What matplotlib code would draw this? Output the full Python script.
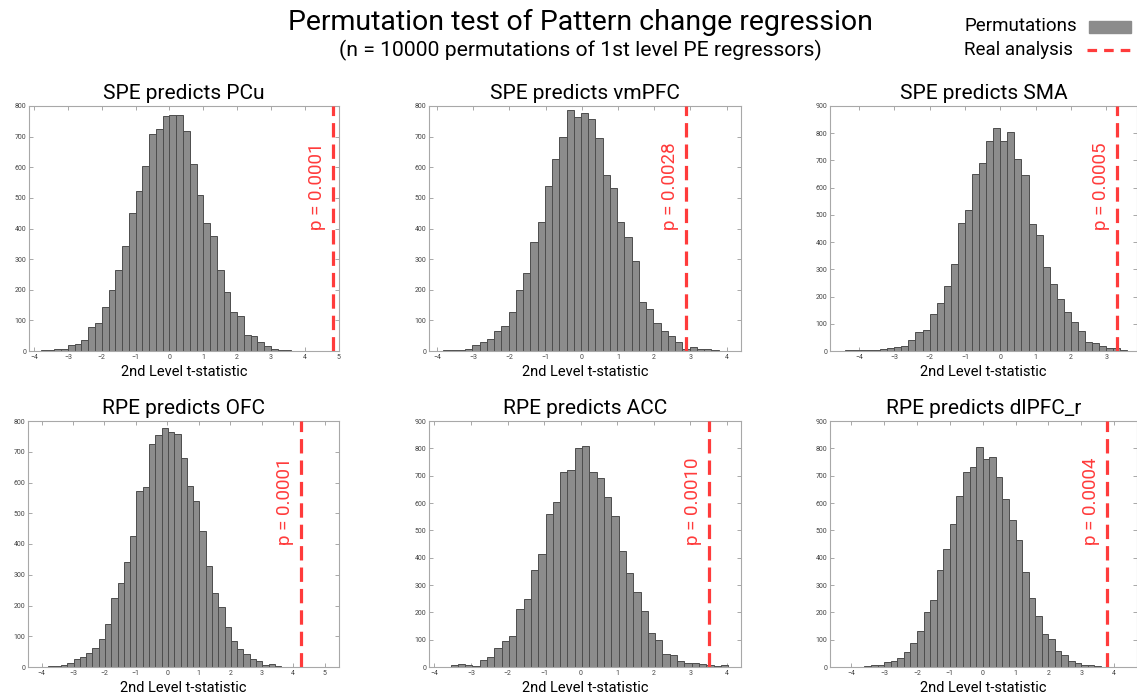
import matplotlib.pyplot as plt
import numpy as np

plt.rcParams['font.family'] = ['Roboto', 'DejaVu Sans']

# Permutation histograms (bin width 0.2)
titles = ['SPE predicts PCu', 'SPE predicts vmPFC', 'SPE predicts SMA',
          'RPE predicts OFC', 'RPE predicts ACC', 'RPE predicts dlPFC_r']
bin_width = 0.2
bin_starts = [-3.8, -3.82, -4.4, -3.98, -3.76, -4.2]

counts_pcu = [2, 3, 5, 8, 18, 22, 37, 78, 92, 143, 200, 266, 342, 450, 523, 605, 707, 726, 767,
              771, 770, 717, 609, 509, 417, 377, 266, 194, 128, 113, 52, 50, 29, 16, 8, 3, 4, 1]
counts_vmpfc = [2, 3, 2, 7, 18, 28, 38, 66, 81, 128, 200, 254, 357, 422, 540, 626, 700, 788, 765,
                776, 757, 697, 575, 531, 422, 373, 293, 160, 136, 91, 65, 49, 29, 8, 13, 5, 5, 2]
counts_sma = [4, 2, 2, 2, 4, 6, 12, 16, 17, 41, 68, 76, 137, 178, 239, 320, 471, 518, 651, 689,
              773, 818, 773, 806, 706, 648, 465, 426, 308, 245, 192, 145, 105, 74, 33, 28, 17, 12, 10, 2]
counts_ofc = [1, 2, 3, 6, 12, 25, 32, 47, 63, 92, 141, 226, 274, 340, 427, 573, 584, 724, 753,
              776, 764, 757, 679, 588, 539, 442, 328, 241, 195, 131, 84, 58, 43, 25, 19, 6, 9, 3, 1]
counts_acc = [1, 6, 10, 7, 4, 27, 37, 71, 95, 115, 211, 250, 355, 414, 558, 603, 713, 722, 803,
              808, 712, 692, 623, 552, 425, 343, 274, 206, 123, 97, 46, 43, 23, 15, 13, 11, 7, 5, 6]
counts_dlpfc = [1, 1, 0, 4, 6, 6, 19, 23, 32, 56, 88, 133, 203, 246, 355, 432, 524, 625, 713, 733,
                805, 760, 767, 694, 615, 537, 463, 348, 251, 188, 122, 102, 60, 45, 23, 13, 8, 7, 2, 1,
                1, 1, 1]
all_counts = [counts_pcu, counts_vmpfc, counts_sma, counts_ofc, counts_acc, counts_dlpfc]

real_t = [4.83, 2.87, 3.29, 4.26, 3.51, 3.78]
p_values = ['0.0001', '0.0028', '0.0005', '0.0001', '0.0010', '0.0004']

xlims = [(-4.15, 5.01), (-4.22, 4.4), (-4.82, 3.87), (-4.43, 5.46), (-4.15, 4.39), (-4.65, 4.7)]
ylims = [800, 800, 900, 800, 900, 900]
xticks = [range(-4, 6), range(-4, 5), range(-4, 4), range(-4, 6), range(-4, 5), range(-4, 5)]

W, H = 1137, 698
fig = plt.figure(figsize=(W / 100, H / 100), dpi=100)

# axes boxes in pixels: left, right, top, bottom
boxes = [(29, 339, 106, 351), (429, 741, 106, 351), (830, 1137, 106, 351),
         (28, 339, 421, 667), (429, 741, 421, 667), (830, 1137, 421, 667)]

red = '#ff3b3b'
for i, (l, r, t, b) in enumerate(boxes):
    ax = fig.add_axes([l / W, 1 - b / H, (r - l) / W, (b - t) / H])
    counts = np.array(all_counts[i])
    edges = bin_starts[i] + bin_width * np.arange(len(counts))
    ax.bar(edges, counts, width=bin_width, align='edge', color='#8c8c8c',
           edgecolor='#4d4d4d', linewidth=0.7, zorder=2)
    ax.axvline(real_t[i], color=red, lw=2.3, dashes=(4.5, 2.2), zorder=3)
    ax.annotate('p = ' + p_values[i], xy=(real_t[i], 0.85), xycoords=('data', 'axes fraction'),
                xytext=(-5, 0), textcoords='offset points', rotation=90,
                ha='right', va='top', color=red, fontsize=13.5)
    ax.set_xlim(*xlims[i])
    ax.set_ylim(0, ylims[i])
    ax.set_xticks(list(xticks[i]))
    ax.set_yticks(range(0, ylims[i] + 1, 100))
    ax.tick_params(direction='in', top=True, right=True, length=3, width=0.6,
                   labelsize=5, colors='#9a9a9a', labelcolor='#444444', pad=2)
    for s in ax.spines.values():
        s.set_color('#a8a8a8')
        s.set_linewidth(0.8)
    ax.set_title(titles[i], fontsize=15, pad=5)
    ax.set_xlabel('2nd Level t-statistic', fontsize=10.5, labelpad=3)

fig.text(580 / W, 1 - 22 / H, 'Permutation test of Pattern change regression',
         ha='center', va='center', fontsize=20.5)
fig.text(580 / W, 1 - 50 / H, '(n = 10000 permutations of 1st level PE regressors)',
         ha='center', va='center', fontsize=15.2)

# legend
fig.text(1077 / W, 1 - 26 / H, 'Permutations', ha='right', va='center', fontsize=13.5)
fig.text(1073 / W, 1 - 50 / H, 'Real analysis', ha='right', va='center', fontsize=13.5)
fig.patches.append(plt.Rectangle((1089 / W, 1 - 33 / H), 42 / W, 12 / H,
                                 transform=fig.transFigure, color='#8c8c8c'))
fig.lines.append(plt.Line2D([1087 / W, 1133 / W], [1 - 50 / H, 1 - 50 / H],
                            transform=fig.transFigure, color=red, lw=2.3, dashes=(3, 2.2)))

plt.savefig('out.png', dpi=100)
